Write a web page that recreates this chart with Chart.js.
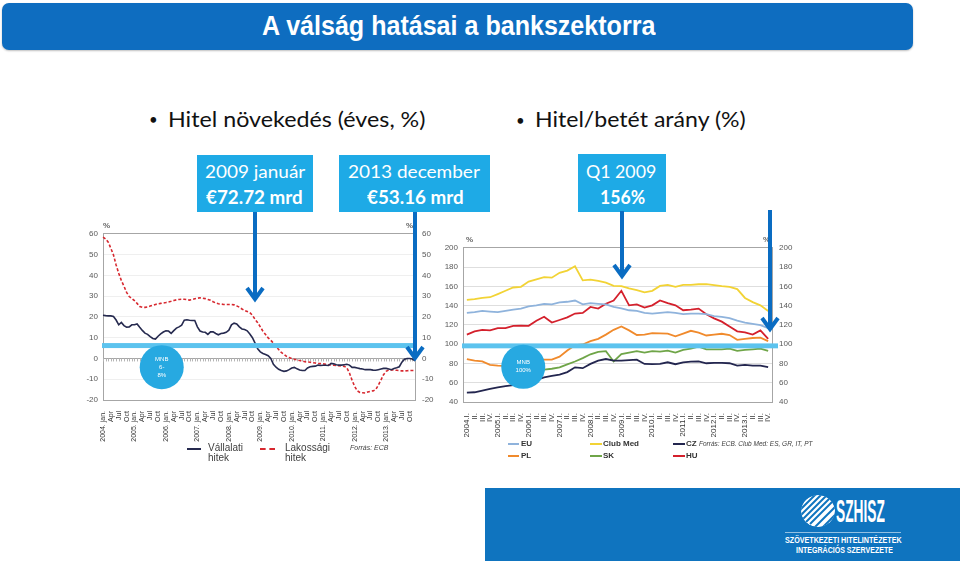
<!DOCTYPE html>
<html>
<head>
<meta charset="utf-8">
<script src="https://cdn.jsdelivr.net/npm/chart.js@4.4.1/dist/chart.umd.min.js"></script>
<style>
  body { margin: 0; width: 960px; height: 561px; background: #fff; position: relative; overflow: hidden; font-family: Lato, sans-serif; }
  .abs { position: absolute; }
  .fit { display: inline-block; white-space: nowrap; transform-origin: 0 50%; }
  #titlebar { left: 2px; top: 3px; width: 911px; height: 47px; background: #0e6dc0; border-radius: 7px; box-shadow: 0 1px 2px rgba(0,0,0,0.25); }
  .title { color: #fff; font: bold 28px "Liberation Sans Narrow", sans-serif; line-height: 28px; }
  .bullet { color: #111; font-size: 22px; line-height: 22px; }
  .dot { color: #111; font-size: 15px; line-height: 15px; }
  .box { background: #1eaae6; }
  .boxtxt { color: #fff; font-size: 18px; line-height: 18px; }
  .tick8 { font: 8px "Liberation Sans", sans-serif; color: #404040; }
  .leg { font: 10px "Liberation Sans", sans-serif; color: #404040; line-height: 10px; }
  .leg2 { font: bold 8px "Liberation Sans", sans-serif; color: #333; line-height: 8px; }
  .src { font: italic 7px "Liberation Sans", sans-serif; color: #404040; }
  canvas { position: absolute; }
</style>
</head>
<body>

<div id="titlebar" class="abs"></div>
<span class="abs fit title" data-w="393" style="left:262px; top:12px;">A válság hatásai a bankszektorra</span>

<span class="abs dot" style="left:149px; top:112px;">•</span>
<span class="abs fit bullet" data-w="257" style="left:168px; top:108px;">Hitel növekedés (éves, %)</span>
<span class="abs dot" style="left:516px; top:113px;">•</span>
<span class="abs fit bullet" data-w="211" style="left:535px; top:108px;">Hitel/betét arány (%)</span>

<div class="abs box" style="left:197px; top:155px; width:116px; height:57px;"></div>
<span class="abs fit boxtxt" data-w="100" style="left:205px; top:162px;">2009 január</span>
<span class="abs fit boxtxt" data-w="97" style="left:206px; top:188px; font-weight:bold;">€72.72 mrd</span>

<div class="abs box" style="left:339px; top:155px; width:151px; height:57px;"></div>
<span class="abs fit boxtxt" data-w="132" style="left:348px; top:162px;">2013 december</span>
<span class="abs fit boxtxt" data-w="97" style="left:367px; top:188px; font-weight:bold;">€53.16 mrd</span>

<div class="abs box" style="left:578px; top:154px; width:88px; height:58px;"></div>
<span class="abs fit boxtxt" data-w="70" style="left:586px; top:162px;">Q1 2009</span>
<span class="abs fit boxtxt" data-w="45" style="left:600px; top:188px; font-weight:bold;">156%</span>

<canvas id="leftChart" width="370" height="222" style="left:80px; top:222px;"></canvas>
<canvas id="rightChart" width="360" height="212" style="left:440px; top:236px;"></canvas>

<span class="abs tick8" style="left:103px; top:221px; font-weight:bold; color:#666;">%</span>
<span class="abs tick8" style="left:406px; top:221px; font-weight:bold; color:#666;">%</span>
<span class="abs tick8" style="left:466px; top:235px; font-weight:bold; color:#666;">%</span>
<span class="abs tick8" style="left:763px; top:235px; font-weight:bold; color:#666;">%</span>

<!-- left legend -->
<div class="abs" style="left:187px; top:448px; width:14px; height:2px; background:#262a4f;"></div>
<div class="abs leg" style="left:208px; top:443px;">Vállalati<br>hitek</div>
<div class="abs" style="left:260px; top:448px; width:15px; border-top:2px dashed #d7282f;"></div>
<div class="abs leg" style="left:285px; top:443px;">Lakossági<br>hitek</div>
<div class="abs src" style="left:350px; top:444px;">Forrás: ECB</div>

<!-- right legend -->
<div class="abs" style="left:508px; top:443px; width:11px; height:2px; background:#8fb3dc;"></div>
<div class="abs leg2" style="left:521px; top:440px;">EU</div>
<div class="abs" style="left:590px; top:443px; width:12px; height:2px; background:#f2d335;"></div>
<div class="abs leg2" style="left:603px; top:440px;">Club Med</div>
<div class="abs" style="left:673px; top:443px; width:12px; height:2px; background:#23264f;"></div>
<div class="abs leg2" style="left:686px; top:440px;">CZ</div>
<div class="abs src" style="left:699px; top:440px; font-size:6.5px;">Forrás: ECB. Club Med: ES, GR, IT, PT</div>
<div class="abs" style="left:508px; top:455px; width:11px; height:2px; background:#f08a2c;"></div>
<div class="abs leg2" style="left:521px; top:452px;">PL</div>
<div class="abs" style="left:590px; top:455px; width:12px; height:2px; background:#6fa548;"></div>
<div class="abs leg2" style="left:603px; top:452px;">SK</div>
<div class="abs" style="left:673px; top:455px; width:12px; height:2px; background:#d4202c;"></div>
<div class="abs leg2" style="left:686px; top:452px;">HU</div>

<!-- footer logo block -->
<div class="abs" style="left:485px; top:488px; width:475px; height:73px; background:#0f74bf;"></div>
<svg class="abs" style="left:800px; top:494px;" width="36" height="34" viewBox="0 0 36 34">
  <defs><clipPath id="lc"><ellipse cx="18" cy="17" rx="17" ry="16"/></clipPath></defs>
  <g clip-path="url(#lc)">
    <ellipse cx="18" cy="17" rx="17" ry="16" fill="#fff"/>
    <g stroke="#0f74bf" stroke-width="2">
      <line x1="-4" y1="14" x2="14" y2="-4"/><line x1="-4" y1="20" x2="20" y2="-4"/>
      <line x1="-2" y1="24" x2="24" y2="-2"/><line x1="2" y1="26" x2="28" y2="0"/>
      <line x1="6" y1="28" x2="32" y2="2"/><line x1="10" y1="30" x2="36" y2="4"/>
      <line x1="14" y1="34" x2="38" y2="10"/><line x1="20" y1="36" x2="40" y2="16"/>
    </g>
  </g>
</svg>
<span class="abs fit" data-w="49" style="left:836px; top:495px; color:#fff; font:bold 32px 'Liberation Sans Narrow', sans-serif; line-height:32px;">SZHISZ</span>
<div class="abs" style="left:785px; top:532px; width:116px; height:1px; background:rgba(255,255,255,0.55);"></div>
<span class="abs fit" data-w="117" style="left:785px; top:535px; color:#fff; font:bold 9px 'Liberation Sans', sans-serif; line-height:10px;">SZÖVETKEZETI HITELINTÉZETEK</span>
<span class="abs fit" data-w="97" style="left:796px; top:545px; color:#fff; font:bold 9px 'Liberation Sans', sans-serif; line-height:10px;">INTEGRÁCIÓS SZERVEZETE</span>

<!-- arrows -->
<svg class="abs" style="left:0; top:0; pointer-events:none;" width="960" height="561">
  <g stroke="#0a6cc2" stroke-width="4" fill="none" stroke-linejoin="miter">
    <line x1="255" y1="212" x2="255" y2="298"/><polyline points="247,288 255,299 263,288"/>
    <line x1="415" y1="212" x2="415" y2="357"/><polyline points="407,347 415,358 423,347"/>
    <line x1="622" y1="211" x2="622" y2="275"/><polyline points="614,265 622,276 630,265"/>
    <line x1="770" y1="210" x2="770" y2="328"/><polyline points="762,318 770,329 778,318"/>
  </g>
</svg>

<script>
// ---- left chart: annual loan growth (%), monthly 2004-2013 ----
const years = [2004, 2005, 2006, 2007, 2008, 2009, 2010, 2011, 2012, 2013];
const monthTicks = ['jan.', '', '', 'Apr', '', '', 'Jul', '', '', 'Oct', '', ''];
const corporateLoans = [
  20.8, 20.6, 20.5, 20.5, 20.2, 18.5, 16.2, 17.3, 15.8, 15.0, 15.2, 16.2,
  16.2, 16.6, 15.0, 13.5, 12.2, 11.6, 10.5, 9.6, 9.3, 10.7, 11.8, 12.7,
  13.3, 13.2, 12.1, 13.4, 14.6, 15.2, 16.0, 18.4, 18.6, 18.4, 18.3, 18.3,
  15.2, 13.2, 12.7, 12.6, 11.6, 12.8, 12.8, 12.0, 11.4, 12.0, 12.2, 12.6,
  13.6, 16.2, 17.0, 16.6, 15.2, 14.2, 13.9, 13.3, 11.8, 10.0, 7.4, 4.6,
  3.2, 2.4, 1.9, 1.3, 0, -2.8, -4.2, -5.2, -5.8, -6.2, -6.0, -5.4,
  -4.6, -4.3, -5.0, -5.6, -5.8, -5.8, -4.6, -4.0, -3.8, -3.7, -3.2, -3.4,
  -3.3, -3.3, -3.4, -2.4, -2.6, -3.0, -3.2, -3.2, -3.0, -2.8, -3.2, -4.3,
  -4.3, -4.6, -4.9, -5.1, -5.4, -5.4, -5.4, -5.6, -5.7, -5.4, -5.1, -4.8,
  -4.8, -5.1, -5.4, -4.8, -4.5, -4.0, -1.8, -0.4, 0, 0, -0.3, -1.1
];
const householdLoans = [
  58.4, 57.5, 56.0, 53.0, 49.8, 45.0, 41.0, 37.5, 34.8, 31.8, 29.8, 28.9,
  27.8, 26.5, 25.0, 24.6, 24.6, 24.8, 25.2, 25.6, 26.0, 26.3, 26.5, 26.7,
  26.9, 27.2, 27.5, 27.9, 28.2, 28.4, 28.5, 28.5, 28.3, 28.1, 28.3, 28.7,
  29.0, 29.2, 29.0, 28.8, 28.4, 28.0, 27.3, 26.7, 26.3, 26.2, 26.0, 26.0,
  26.0, 26.0, 25.8, 25.3, 24.7, 23.8, 23.1, 22.6, 22.1, 20.8, 18.8, 17.2,
  15.2, 13.1, 11.5, 9.9, 8.7, 7.4, 5.8, 4.3, 2.9, 2.0, 1.0, 0.4,
  0, -0.4, -0.7, -1.0, -1.2, -1.6, -1.7, -1.8, -2.0, -2.2, -2.4, -2.5,
  -2.6, -2.8, -3.0, -3.2, -3.3, -3.4, -3.5, -3.7, -3.8, -4.5, -7.0, -10.5,
  -13.5, -15.6, -16.4, -16.5, -16.6, -16.1, -15.8, -15.6, -15.0, -12.9, -10.4, -7.8,
  -6.2, -5.5, -5.5, -5.6, -5.7, -5.8, -6.0, -6.0, -5.9, -5.8, -5.8, -5.8
];
const leftBand = [5.0, 7.4];          // MNB 6-8% band
const leftCircle = [22.4, -4.2];      // month index, value
const leftCircleText = ['MNB', '6-', '8%'];

// ---- right chart: loan/deposit ratio (%), quarterly 2004-2013 ----
const quarters = ['I.', 'II.', 'III.', 'IV.'];
const euRatio = [132.5, 133.2, 134.5, 133.8, 133.2, 134.5, 135.9, 136.9, 139.2, 140.3,
  141.9, 141.3, 143.3, 144, 145.3, 141.3, 142.6, 141.9, 141.3, 138.6,
  137.2, 135.2, 134.5, 132.5, 131.8, 132.5, 133.2, 132.5, 131.1, 131.8,
  131.8, 131.1, 129.1, 128.4, 127.1, 124.4, 122.4, 121, 119.7, 116.6];
const clubMedRatio = [146, 146.7, 148, 148.7, 152, 155.4, 158.8, 159.5, 164.9, 167.3,
  169.6, 169, 174, 176.4, 180.8, 166.2, 166.9, 165.6, 163.9, 160.5,
  160.2, 157.8, 156.1, 153.8, 155.4, 160.5, 161.5, 159.5, 161.5, 161.5,
  162.2, 162.2, 161.2, 160.2, 159.5, 157.1, 148, 143.6, 140.3, 134.5];
const czRatio = [49.8, 50.1, 51.8, 53.5, 55.2, 56.5, 57.5, 59, 61, 63,
  65.5, 67, 68.5, 71, 76, 75.1, 79.5, 83, 84.6, 83,
  82.9, 83.5, 83.9, 79.5, 79.2, 79.5, 81.2, 79.2, 81.2, 81.9,
  82.2, 80.2, 80.5, 80.5, 80.2, 77.8, 78.5, 77.8, 77.8, 76.1];
const plRatio = [84.6, 82.9, 82.2, 78.5, 77.8, 77.5, 78, 80, 82, 83.5,
  84, 84, 87, 93.5, 99, 99.7, 103.1, 105.5, 109.9, 114.9,
  118.3, 114.3, 109.5, 109.9, 111.5, 111.2, 110.9, 108.2, 111, 113.9,
  112, 109, 109.9, 110.8, 109.5, 104.5, 105.5, 106.4, 106.8, 103.1];
const skRatio = [null, null, null, null, null, null, 73, 73, 73.5, 73.8,
  73.5, 74.5, 76, 79, 82, 85.5, 89.5, 92, 92.7, 82,
  89.6, 91.3, 92.7, 91.3, 92.7, 92.3, 93.3, 91.3, 94, 95.4,
  97.4, 94.7, 94.7, 94.7, 95.4, 93, 94, 94.7, 95.4, 93];
const huRatio = [109.9, 113.3, 114.9, 114.3, 116.6, 116.6, 119, 119.3, 119, 124.4,
  128.4, 122.4, 125.1, 127.8, 131.8, 132.5, 138.6, 136.9, 141.9, 145.3,
  155.4, 140.3, 141.3, 137.9, 140.3, 145.3, 142.6, 140.3, 135.2, 135.9,
  136.9, 131.1, 126.8, 123.4, 118.3, 113.3, 112.2, 109.9, 114.3, 105.5];
const rightBand = [95.7, 100.8];
const rightCircle = [7.3, 76.5];
const rightCircleText = ['MNB', '100%'];

const monthLabels = [];
years.forEach(y => monthTicks.forEach((m, i) => monthLabels.push(i === 0 ? y + '. ' + m : m)));
const quarterLabels = [];
years.forEach(y => quarters.forEach((q, i) => quarterLabels.push(i === 0 ? y + '.' + q : q)));

// band + MNB circle drawn on top of the lines, zero-line ticks under them
const overlay = {
  id: 'overlay',
  beforeDatasetsDraw(chart, args, opts) {
    if (!opts.zeroTicks) return;
    const { ctx, scales } = chart;
    const y0 = scales.y.getPixelForValue(0);
    ctx.save();
    ctx.strokeStyle = '#b5b5b5';
    ctx.lineWidth = 1;
    ctx.beginPath();
    chart.data.labels.forEach((l, i) => {
      const x = Math.round(scales.x.getPixelForValue(i)) + 0.5;
      ctx.moveTo(x, y0);
      ctx.lineTo(x, y0 + 3);
    });
    ctx.stroke();
    ctx.restore();
  },
  afterDatasetsDraw(chart, args, opts) {
    const { ctx, chartArea, scales } = chart;
    const y = scales.y;
    ctx.save();
    const top = y.getPixelForValue(opts.band[1]);
    const bot = y.getPixelForValue(opts.band[0]);
    ctx.fillStyle = '#5cc3ee';
    ctx.fillRect(chartArea.left - 1, top, chartArea.right - chartArea.left + opts.bandExtra, bot - top);
    const cx = scales.x.getPixelForValue(opts.circle[0]);
    const cy = y.getPixelForValue(opts.circle[1]);
    ctx.beginPath();
    ctx.arc(cx, cy, 22, 0, Math.PI * 2);
    ctx.fillStyle = '#27a9e1';
    ctx.fill();
    ctx.fillStyle = '#fff';
    ctx.font = '6px "Liberation Sans"';
    ctx.textAlign = 'center';
    ctx.textBaseline = 'middle';
    const n = opts.text.length;
    opts.text.forEach((t, i) => ctx.fillText(t, cx, cy + (i - (n - 1) / 2) * 8));
    ctx.restore();
  }
};

const tickFont = { family: 'Liberation Sans', size: 8 };

function yAxis(pos, min, max, step, width, gridColor) {
  return {
    position: pos, min: min, max: max,
    ticks: { stepSize: step, font: tickFont, color: '#595959', padding: pos === 'left' ? 5 : 7 },
    grid: gridColor ? { color: gridColor, drawTicks: false } : { drawOnChartArea: false, drawTicks: false },
    border: { color: '#a6a6a6' },
    afterFit(s) { s.width = width; }
  };
}

new Chart(document.getElementById('leftChart'), {
  type: 'line',
  data: {
    labels: monthLabels,
    datasets: [
      { label: 'Vállalati hitek', data: corporateLoans, borderColor: '#262a4f', borderWidth: 1.6, pointRadius: 0, yAxisID: 'y' },
      { label: 'Lakossági hitek', data: householdLoans, borderColor: '#d7282f', borderWidth: 1.6, borderDash: [3, 2], pointRadius: 0, yAxisID: 'y' }
    ]
  },
  options: {
    responsive: false,
    animation: false,
    layout: { padding: { top: 9 } },
    plugins: {
      legend: { display: false },
      tooltip: { enabled: false },
      overlay: { band: leftBand, bandExtra: 3, circle: leftCircle, text: leftCircleText, zeroTicks: true }
    },
    scales: {
      x: {
        grid: { display: false },
        border: { color: '#a6a6a6' },
        ticks: { autoSkip: false, maxRotation: 90, minRotation: 90, font: { family: 'Liberation Sans', size: 7 }, color: '#333', padding: 3 },
        afterFit(s) { s.height = 44; }
      },
      y: yAxis('left', -20, 60, 10, 23, c => (c.tick.value === 0 || c.tick.value === 60) ? '#a6a6a6' : '#efefef'),
      y2: yAxis('right', -20, 60, 10, 35, null)
    }
  },
  plugins: [overlay]
});

const rightSeries = [
  ['EU', euRatio, '#8fb3dc'],
  ['Club Med', clubMedRatio, '#f2d335'],
  ['CZ', czRatio, '#23264f'],
  ['PL', plRatio, '#f08a2c'],
  ['SK', skRatio, '#6fa548'],
  ['HU', huRatio, '#d4202c']
];

new Chart(document.getElementById('rightChart'), {
  type: 'line',
  data: {
    labels: quarterLabels,
    datasets: rightSeries.map(s => ({ label: s[0], data: s[1], borderColor: s[2], borderWidth: 1.8, pointRadius: 0, yAxisID: 'y' }))
  },
  options: {
    responsive: false,
    animation: false,
    layout: { padding: { top: 8 } },
    plugins: {
      legend: { display: false },
      tooltip: { enabled: false },
      overlay: { band: rightBand, bandExtra: 7, circle: rightCircle, text: rightCircleText, zeroTicks: false }
    },
    scales: {
      x: {
        offset: true,
        grid: { display: false },
        border: { color: '#a6a6a6' },
        ticks: { autoSkip: false, maxRotation: 90, minRotation: 90, font: tickFont, color: '#333', padding: 3 },
        afterFit(s) { s.height = 46; }
      },
      y: yAxis('left', 40, 200, 20, 23, c => c.tick.value === 200 ? '#a6a6a6' : '#dedede'),
      y2: yAxis('right', 40, 200, 20, 28, null)
    }
  },
  plugins: [overlay]
});

// squeeze text spans to the widths they have on the slide
document.querySelectorAll('.fit').forEach(el => {
  const w = el.offsetWidth;
  el.style.transform = 'scaleX(' + (el.dataset.w / w) + ')';
});
</script>
</body>
</html>
